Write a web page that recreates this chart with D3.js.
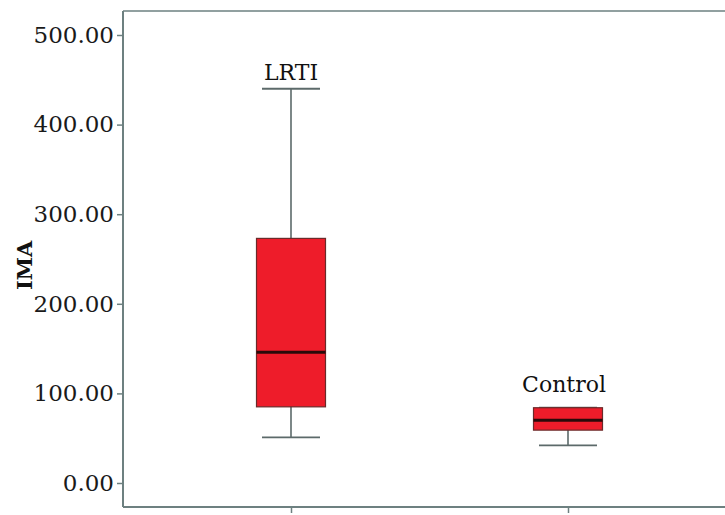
<!DOCTYPE html>
<html>
<head>
<meta charset="utf-8">
<script src="https://cdn.jsdelivr.net/npm/d3@7"></script>
<style>
  body { margin: 0; background: #fff; }
  svg { display: block; }
</style>
</head>
<body>
<svg id="chart" width="725" height="515"></svg>
<script>
// box plot summary values
const groups = ["LRTI", "Control"]
const whiskerLow = [51, 42]
const q1 = [85, 59]
const median = [146, 70]
const q3 = [273, 84]
const whiskerHigh = [440, 84]
const yTicks = [0, 100, 200, 300, 400, 500]

const margins = { top: 11, left: 123, bottom: 8 }
const width = 725, height = 515
const AXIS_COLOR = "#6d8080"

const svg = d3.select("#chart")

const yRange = d3.scaleLinear()
    .domain([0, 500])
    .range([483, 35])

const xRange = d3.scalePoint()
    .domain(groups)
    .range([291, 568])

const bottomY = height - margins.bottom

// frame
svg.append("line")
    .attr("x1", margins.left).attr("x2", width)
    .attr("y1", margins.top).attr("y2", margins.top)
    .attr("stroke", AXIS_COLOR).attr("stroke-width", 1.5)

// y axis
const yAxis = svg.append("g")
    .attr("transform", "translate(" + margins.left + ",0)")
    .call(d3.axisLeft(yRange).tickValues(yTicks).tickSize(6).tickPadding(3)
        .tickFormat(d3.format(".2f")))
yAxis.select(".domain").remove()
yAxis.selectAll(".tick line").attr("stroke", AXIS_COLOR).attr("stroke-width", 1.5)
yAxis.selectAll("text")
    .attr("font-family", "DejaVu Serif, serif")
    .attr("font-size", "23px")
    .attr("fill", "#1a1a1a")

svg.append("line")
    .attr("x1", margins.left).attr("x2", margins.left)
    .attr("y1", margins.top).attr("y2", bottomY)
    .attr("stroke", AXIS_COLOR).attr("stroke-width", 2)

// x axis
const xAxis = svg.append("g")
    .attr("transform", "translate(0," + bottomY + ")")
    .call(d3.axisBottom(xRange).tickSize(6).tickFormat(""))
xAxis.select(".domain").remove()
xAxis.selectAll(".tick line").attr("stroke", AXIS_COLOR).attr("stroke-width", 1.5)

svg.append("line")
    .attr("x1", margins.left).attr("x2", width)
    .attr("y1", bottomY).attr("y2", bottomY)
    .attr("stroke", AXIS_COLOR).attr("stroke-width", 2)

// y label
svg.append("text")
    .attr("transform", "translate(32," + yRange(243) + ") rotate(-90)")
    .attr("text-anchor", "middle")
    .attr("font-family", "DejaVu Serif, serif")
    .attr("font-weight", "bold")
    .attr("font-size", "21px")
    .attr("fill", "#111")
    .text("IMA")

const BOX_W = 69, CAP_W = 58
const labelGap = [9, 16]

const boxes = svg.selectAll(".box")
    .data(groups)
    .enter()
    .append("g")
    .attr("class", "box")

// whisker stems
boxes.append("line")
    .attr("x1", d => xRange(d)).attr("x2", d => xRange(d))
    .attr("y1", (d, i) => yRange(whiskerHigh[i]))
    .attr("y2", (d, i) => yRange(whiskerLow[i]))
    .attr("stroke", "#5c6a6a").attr("stroke-width", 1.6)

// caps
boxes.append("line")
    .attr("x1", d => xRange(d) - CAP_W / 2).attr("x2", d => xRange(d) + CAP_W / 2)
    .attr("y1", (d, i) => yRange(whiskerHigh[i]))
    .attr("y2", (d, i) => yRange(whiskerHigh[i]))
    .attr("stroke", "#5c6a6a").attr("stroke-width", 1.8)
boxes.append("line")
    .attr("x1", d => xRange(d) - CAP_W / 2).attr("x2", d => xRange(d) + CAP_W / 2)
    .attr("y1", (d, i) => yRange(whiskerLow[i]))
    .attr("y2", (d, i) => yRange(whiskerLow[i]))
    .attr("stroke", "#5c6a6a").attr("stroke-width", 1.8)

// boxes
boxes.append("rect")
    .attr("x", d => xRange(d) - BOX_W / 2)
    .attr("y", (d, i) => yRange(q3[i]))
    .attr("width", BOX_W)
    .attr("height", (d, i) => yRange(q1[i]) - yRange(q3[i]))
    .attr("fill", "#ee1c2a")
    .attr("stroke", "#6a2a2a").attr("stroke-width", 1.2)

// medians
boxes.append("line")
    .attr("x1", d => xRange(d) - BOX_W / 2).attr("x2", d => xRange(d) + BOX_W / 2)
    .attr("y1", (d, i) => yRange(median[i]))
    .attr("y2", (d, i) => yRange(median[i]))
    .attr("stroke", "#2a0a0a").attr("stroke-width", 3)

// group labels
boxes.append("text")
    .attr("x", (d, i) => xRange(d) - (i === 1 ? 4 : 0))
    .attr("y", (d, i) => yRange(whiskerHigh[i]) - labelGap[i])
    .attr("text-anchor", "middle")
    .attr("font-family", "DejaVu Serif, serif")
    .attr("font-size", "22px")
    .attr("fill", "#111")
    .text(d => d)
</script>
</body>
</html>
